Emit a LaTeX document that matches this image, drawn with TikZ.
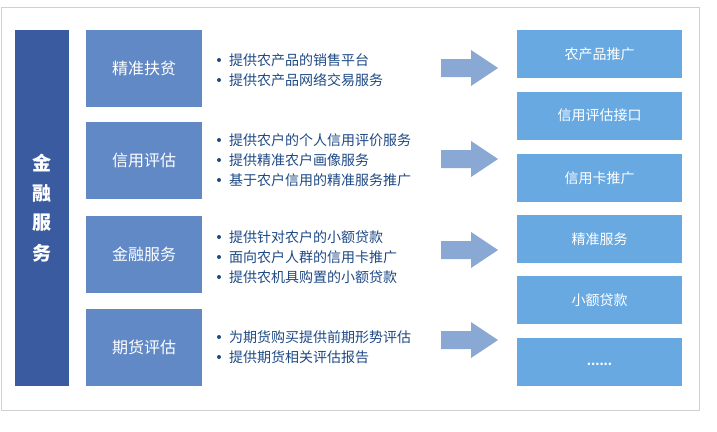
\documentclass[tikz,border=0pt]{standalone}
\usepackage{fontspec}
\setmainfont{Noto Sans CJK SC}
\definecolor{framec}{HTML}{D0D0D0}
\definecolor{barc}{HTML}{3A5BA0}
\definecolor{catc}{HTML}{6189C6}
\definecolor{rightc}{HTML}{68A9E2}
\definecolor{arrowc}{HTML}{8AA8D4}
\definecolor{txtc}{HTML}{1F4A85}
\tikzset{
  catbox/.style={fill=catc, draw=none, minimum width=116pt, minimum height=77pt, inner sep=0pt,
    text=white, font=\fontsize{16}{18}\selectfont},
  rbox/.style={fill=rightc, draw=none, minimum width=165pt, minimum height=48pt, inner sep=0pt,
    text=white, font=\fontsize{14}{16}\selectfont},
  btext/.style={anchor=west, inner sep=0pt, text=txtc, font=\fontsize{14}{16}\selectfont},
  bdot/.style={fill=txtc, draw=none, circle, inner sep=0pt, minimum size=4pt},
  bigarrow/.style={fill=arrowc, draw=none},
  vtext/.style={text=white, font=\fontsize{19}{21}\selectfont\bfseries, inner sep=0pt}
}
\newcommand{\bitem}[3]{%
  \node[bdot] (#1d) at (219,#2) {};
  \node[btext] (#1t) at (229,#2) {#3};}
\newcommand{\barrow}[2]{%
  \fill[bigarrow] (441,#2-9) -- (471,#2-9) -- (471,#2-18) -- (498,#2) -- (471,#2+18) -- (471,#2+9) -- (441,#2+9) -- cycle;
  \coordinate (#1) at (498,#2);}
\begin{document}
\begin{tikzpicture}[x=1pt,y=-1pt]
\useasboundingbox (0,0) rectangle (717,431);
\fill[white] (0,0) rectangle (717,431);
\draw[framec, line width=1pt] (1,7) rectangle (699,410);
% left bar
\fill[barc] (15,30) rectangle (69,386);
\node[vtext] (v1) at (42,163) {金};
\node[vtext] (v2) at (42,193) {融};
\node[vtext] (v3) at (42,223) {服};
\node[vtext] (v4) at (42,253) {务};
% category boxes
\node[catbox] (c1) at (144,68.5) {精准扶贫};
\node[catbox] (c2) at (144,160.5) {信用评估};
\node[catbox] (c3) at (144,254.5) {金融服务};
\node[catbox] (c4) at (144,347.5) {期货评估};
% bullets
\bitem{a1}{60}{提供农产品的销售平台}
\bitem{a2}{80}{提供农产品网络交易服务}
\bitem{b1}{140}{提供农户的个人信用评价服务}
\bitem{b2}{160}{提供精准农户画像服务}
\bitem{b3}{180}{基于农户信用的精准服务推广}
\bitem{e1}{237}{提供针对农户的小额贷款}
\bitem{e2}{257}{面向农户人群的信用卡推广}
\bitem{e3}{277}{提供农机具购置的小额贷款}
\bitem{f1}{337}{为期货购买提供前期形势评估}
\bitem{f2}{357}{提供期货相关评估报告}
% arrows
\barrow{t1}{68}
\barrow{t2}{159}
\barrow{t3}{250}
\barrow{t4}{340}
% right boxes
\node[rbox] (r1) at (599.5,54) {农产品推广};
\node[rbox] (r2) at (599.5,115.5) {信用评估接口};
\node[rbox] (r3) at (599.5,178) {信用卡推广};
\node[rbox] (r4) at (599.5,239) {精准服务};
\node[rbox] (r5) at (599.5,300) {小额贷款};
\node[rbox] (r6) at (599.5,362) {};
\node[text=white, font=\fontsize{12}{14}\selectfont\bfseries, inner sep=0pt] (r6t) at (599.5,364) {......};
\end{tikzpicture}
\end{document}
